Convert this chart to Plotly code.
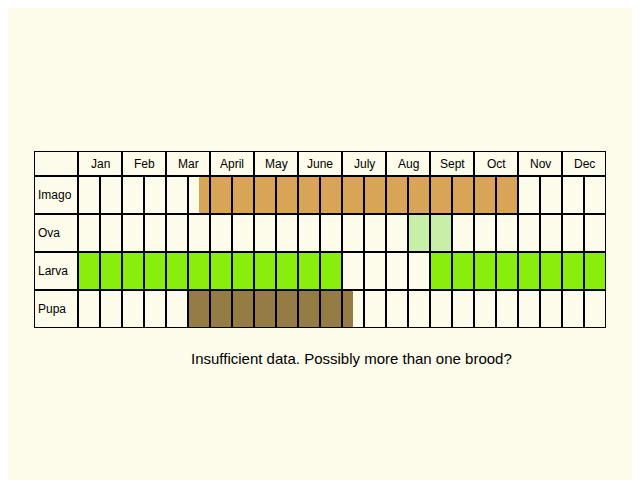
import plotly.graph_objects as go

months = ['Jan', 'Feb', 'Mar', 'April', 'May', 'June', 'July', 'Aug', 'Sept', 'Oct', 'Nov', 'Dec']
stages = ['Imago', 'Ova', 'Larva', 'Pupa']
stage_y = [3.5, 2.5, 1.5, 0.5]
# periods in months from start of Jan: (start, end)
imago_periods = [(2.75, 10.0)]
ova_periods = [(7.5, 8.5)]
larva_periods = [(0.0, 6.0), (8.0, 12.0)]
pupa_periods = [(2.5, 6.25)]
colors = ['#d8a458', '#c7efa8', '#8aee0c', '#957c45']
note = 'Insufficient data. Possibly more than one brood?'

BG = '#fdfbea'
HEAD = 25 / 38

fig = go.Figure()
for y, periods, c in zip(stage_y, [imago_periods, ova_periods, larva_periods, pupa_periods], colors):
    fig.add_trace(go.Bar(y=[y] * len(periods), base=[p[0] for p in periods],
                         x=[p[1] - p[0] for p in periods], orientation='h', width=1,
                         marker=dict(color=c, line_width=0), showlegend=False, hoverinfo='skip'))

line = dict(color='black', width=2)
# vertical grid lines
for i in range(25):
    x = i * 0.5
    y1 = 4 + HEAD if i % 2 == 0 else 4
    fig.add_shape(type='line', x0=x, x1=x, y0=0, y1=y1, line=line, layer='above')
fig.add_shape(type='line', x0=-1, x1=-1, y0=0, y1=4 + HEAD, line=line, layer='above')
for y in [0, 1, 2, 3, 4, 4 + HEAD]:
    fig.add_shape(type='line', x0=-1, x1=12, y0=y, y1=y, line=line, layer='above')

for i, m in enumerate(months):
    fig.add_annotation(x=i + 0.5, y=4 + HEAD / 2, text=m, showarrow=False, font=dict(size=12))
for s, y in zip(stages, stage_y):
    fig.add_annotation(x=-1, y=y, text=s, showarrow=False, xanchor='left', xshift=2,
                       font=dict(size=12))
fig.add_annotation(x=0.555, y=-0.23, xref='paper', yref='paper', text=note, showarrow=False,
                   font=dict(size=15))

fig.update_layout(width=640, height=480, paper_bgcolor=BG, plot_bgcolor=BG,
                  margin=dict(l=26, r=42, t=143, b=160), barmode='overlay',
                  font=dict(family='Liberation Sans', color='black'),
                  xaxis=dict(range=[-1, 12], visible=False, fixedrange=True),
                  yaxis=dict(range=[0, 4 + HEAD], visible=False, fixedrange=True))
fig.write_html('out.html')
